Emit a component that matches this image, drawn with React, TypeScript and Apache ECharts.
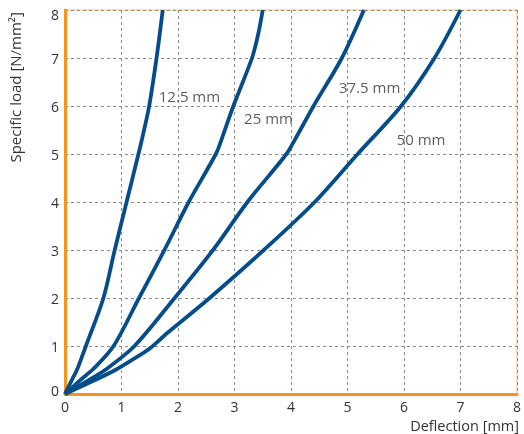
import React, { useEffect, useRef } from "react";
import * as echarts from "echarts";

const xTicks = [0, 1, 2, 3, 4, 5, 6, 7, 8];
const yTicks = [0, 1, 2, 3, 4, 5, 6, 7, 8];

// [deflection mm, specific load N/mm²]
const curve125: [number, number][] = [
  [0, 0], [0.12, 0.29], [0.21, 0.5], [0.27, 0.68], [0.37, 1], [0.68, 2],
  [0.88, 3], [1.09, 4], [1.3, 5], [1.38, 5.4], [1.49, 6], [1.62, 7], [1.73, 8],
];
const curve25: [number, number][] = [
  [0, 0], [0.27, 0.29], [0.5, 0.52], [0.86, 1], [1.31, 2], [1.76, 3],
  [2.19, 4], [2.67, 5], [2.77, 5.3], [2.98, 6], [3.31, 7], [3.42, 7.5], [3.5, 8],
];
const curve375: [number, number][] = [
  [0, 0], [0.42, 0.29], [0.71, 0.5], [1.23, 1], [1.94, 2], [2.62, 3],
  [3.23, 4], [3.92, 5], [4.07, 5.3], [4.4, 6], [4.9, 7], [5.29, 8],
];
const curve50: [number, number][] = [
  [0, 0], [0.53, 0.29], [0.89, 0.5], [1.2, 0.72], [1.5, 0.95], [1.81, 1.27],
  [2.56, 2], [3.52, 3], [4.42, 4], [5.18, 5], [5.95, 6], [6.54, 7], [7.0, 8],
];

const seriesNames = ["12.5 mm", "25 mm", "37.5 mm", "50 mm"];
// label anchor (left edge, vertical middle) in data coordinates
const labelPositions: [number, number][] = [
  [1.66, 6.21],
  [3.17, 5.76],
  [4.85, 6.39],
  [5.87, 5.32],
];

const BLUE = "#044C8A";
const ORANGE = "#F7941D";
const FONT = "'Open Sans', 'Noto Sans', sans-serif";

export default function App() {
  const ref = useRef<HTMLDivElement>(null);

  useEffect(() => {
    if (!ref.current) return;
    const chart = echarts.init(ref.current, undefined, { renderer: "svg" });
    const curves = [curve125, curve25, curve375, curve50];
    const option: any = {
      animation: false,
      textStyle: { fontFamily: FONT },
      grid: {
        left: 65,
        right: 5,
        top: 10,
        bottom: 40,
        show: true,
        borderColor: "#F9BE73",
        borderWidth: 1,
      },
      xAxis: {
        type: "value",
        min: 0,
        max: 8,
        interval: 1,
        axisLine: { show: true, onZero: false, lineStyle: { color: ORANGE, width: 3 } },
        axisTick: { show: false },
        axisLabel: {
          color: "#333",
          fontSize: 14,
          lineHeight: 14,
          margin: 5,
          fontFamily: FONT,
          formatter: (v: number) => (xTicks.includes(v) ? String(v) : ""),
        },
        splitLine: { show: true, lineStyle: { color: "#8a8a8a", type: [3, 3], width: 1 } },
      },
      yAxis: {
        type: "value",
        min: 0,
        max: 8,
        interval: 1,
        axisLine: { show: true, onZero: false, lineStyle: { color: ORANGE, width: 3 } },
        axisTick: { show: false },
        axisLabel: {
          color: "#333",
          fontSize: 14,
          margin: 6,
          fontFamily: FONT,
          formatter: (v: number) => {
            if (!yTicks.includes(v)) return "";
            if (v === 8) return "{top|8}";
            if (v === 0) return "{bot|0}";
            return String(v);
          },
          rich: {
            top: { fontSize: 14, color: "#333", fontFamily: FONT, padding: [9, 0, 0, 0] },
            bot: { fontSize: 14, color: "#333", fontFamily: FONT, padding: [0, 0, 8, 0] },
          },
        },
        splitLine: { show: true, lineStyle: { color: "#8a8a8a", type: [3, 3], width: 1 } },
      },
      series: [
        ...curves.map((data, i) => ({
          name: seriesNames[i],
          type: "line",
          data,
          smooth: 0.3,
          showSymbol: false,
          symbol: "none",
          lineStyle: { color: BLUE, width: 3.8 },
          z: 3,
        })),
        {
          type: "scatter",
          symbolSize: 0,
          data: labelPositions.map((p, i) => ({ value: p, name: seriesNames[i] })),
          label: {
            show: true,
            position: "inside",
            align: "left",
            verticalAlign: "middle",
            formatter: (p: any) => p.name,
            color: "#333",
            fontSize: 15,
            fontFamily: FONT,
          },
          z: 4,
        },
      ],
      graphic: [
        {
          type: "text",
          x: 15,
          y: 12,
          rotation: Math.PI / 2,
          style: {
            text: "Specific load [N/mm²]",
            fill: "#333",
            fontSize: 15,
            fontFamily: FONT,
            align: "right",
            verticalAlign: "middle",
          },
        },
        {
          type: "text",
          x: 519,
          y: 425.5,
          style: {
            text: "Deflection [mm]",
            fill: "#333",
            fontSize: 14.5,
            fontFamily: FONT,
            align: "right",
            verticalAlign: "middle",
          },
        },
      ],
    };
    chart.setOption(option);
    return () => chart.dispose();
  }, []);

  return (
    <div
      ref={ref}
      style={{ position: "fixed", left: 0, top: 0, width: 524, height: 434 }}
    />
  );
}
